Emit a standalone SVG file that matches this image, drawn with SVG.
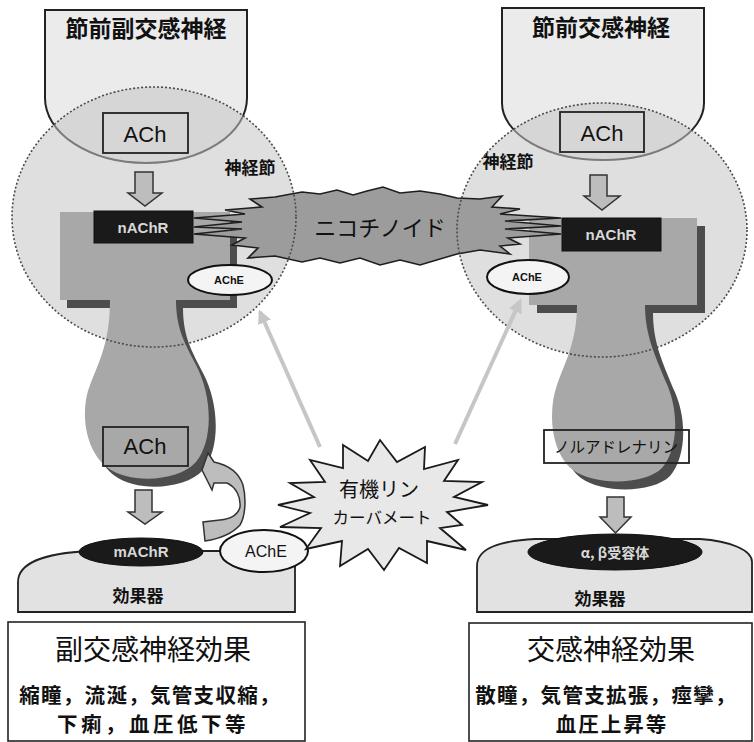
<svg xmlns="http://www.w3.org/2000/svg" width="754" height="742" viewBox="0 0 754 742">
  <defs>
    <style>
      .jp { font-family: "Noto Sans CJK JP", "Noto Sans CJK SC", sans-serif; fill: #111; }
      .lat { font-family: "Liberation Sans", Arial, sans-serif; fill: #111; }
      .pre { fill: #ebebeb; stroke: #222; stroke-width: 2; }
      .gang-fill { fill: #c4c4c4; fill-opacity: 0.55; stroke: none; }
      .gang-edge { fill: none; stroke: #4a4a4a; stroke-width: 1.6; stroke-dasharray: 2 2; }
      .box { fill: none; stroke: #222; stroke-width: 1.8; }
      .body { fill: #a8a8a8; stroke: none; }
      .shadow { fill: #4d4d4d; stroke: none; }
      .recep { fill: #1a1a1a; stroke: #111; stroke-width: 1; }
      .recep-txt { font-family: "Liberation Sans", Arial, sans-serif; font-weight: 700; fill: #d8d8d8; }
      .enz { fill: #f4f4f4; stroke: #111; stroke-width: 2; }
      .effector { fill: #e2e2e2; stroke: #222; stroke-width: 1.8; }
      .blk { fill: #bdbdbd; stroke: #333; stroke-width: 1.5; }
      .hint { stroke: #c6c6c6; stroke-width: 4; fill: none; }
      .panel { fill: #ffffff; stroke: #222; stroke-width: 1.6; }
    </style>
    <marker id="hintHead" viewBox="0 0 10 10" refX="8" refY="5" markerWidth="3.5" markerHeight="3.5" orient="auto">
      <path d="M0,0 L10,5 L0,10 Z" fill="#c6c6c6"/>
    </marker>
  </defs>

  <rect width="754" height="742" fill="#ffffff"/>

  <!-- preganglionic parasympathetic terminal -->
  <g id="pre-para">
    <path class="pre" d="M45,10 H247 V98 A101,65 0 0 1 45,98 Z"/>
    <text class="jp" x="146" y="37" font-size="23" font-weight="700" text-anchor="middle">節前副交感神経</text>
  </g>

  <!-- preganglionic sympathetic terminal -->
  <g id="pre-symp">
    <path class="pre" d="M502,8 H704 V103 A101,57 0 0 1 502,103 Z"/>
    <text class="jp" x="601" y="36" font-size="23" font-weight="700" text-anchor="middle">節前交感神経</text>
  </g>

  <!-- ganglion areas (fill) -->
  <g id="ganglion-left">
    <ellipse class="gang-fill" cx="154" cy="217" rx="142" ry="130"/>
    <text class="jp" x="250" y="174" font-size="17" font-weight="700" text-anchor="middle">神経節</text>
  </g>
  <g id="ganglion-right">
    <ellipse class="gang-fill" cx="602" cy="230" rx="145" ry="127"/>
    <text class="jp" x="508" y="168" font-size="17" font-weight="700" text-anchor="middle">神経節</text>
  </g>

  <!-- transmitter boxes in the presynaptic terminals -->
  <g id="ach-pre-left">
    <rect class="box" x="103" y="113" width="85" height="40"/>
    <text class="lat" x="145" y="142" font-size="22" text-anchor="middle">ACh</text>
  </g>
  <g id="ach-pre-right">
    <rect class="box" x="560" y="112" width="84" height="40"/>
    <text class="lat" x="602" y="141" font-size="22" text-anchor="middle">ACh</text>
  </g>

  <!-- postganglionic parasympathetic neuron -->
  <g id="post-para">
    <path class="shadow" transform="translate(7,8)" d="M60,212 H230 V300 H176 C176,330 186,345 196,365 C212,395 214,440 196,462 C178,482 130,484 108,468 C84,450 80,410 90,385 C100,360 110,340 110,300 H60 Z"/>
    <path class="body" d="M60,212 H230 V300 H176 C176,330 186,345 196,365 C212,395 214,440 196,462 C178,482 130,484 108,468 C84,450 80,410 90,385 C100,360 110,340 110,300 H60 Z"/>
  </g>

  <!-- postganglionic sympathetic neuron -->
  <g id="post-symp">
    <path class="shadow" transform="translate(8,8)" d="M529,218 H697 V305 H645 C645,335 655,355 665,380 C680,410 678,450 662,468 C645,485 595,486 573,470 C550,452 548,410 557,385 C566,360 577,340 577,305 H529 Z"/>
    <path class="body" d="M529,218 H697 V305 H645 C645,335 655,355 665,380 C680,410 678,450 662,468 C645,485 595,486 573,470 C550,452 548,410 557,385 C566,360 577,340 577,305 H529 Z"/>
  </g>

  <!-- nicotinic receptors -->
  <g id="nachr-left">
    <rect class="recep" x="94" y="211" width="99" height="32"/>
    <text class="recep-txt" x="143" y="233" font-size="15" text-anchor="middle">nAChR</text>
  </g>
  <g id="nachr-right">
    <rect class="recep" x="562" y="218" width="99" height="33"/>
    <text class="recep-txt" x="611" y="240" font-size="15" text-anchor="middle">nAChR</text>
  </g>

  <!-- neonicotinoid acting on both ganglia -->
  <g id="nicotinoid">
    <path d="M302,192 L320,194 L337,190 L353,195 L367,191 L383,187 L400,193 L420,191 L440,194 L457,198 L480,199 L502,196 L492,207 L520,209 L500,214 L561,218 L505,221 L561,226 L505,229 L561,234 L508,238 L520,244 L500,246 L510,254 L480,250 L457,254 L440,259 L420,265 L400,260 L380,265 L360,258 L340,263 L320,258 L302,262 L275,256 L248,258 L258,248 L232,245 L245,238 L194,234 L242,229 L194,227 L242,222 L194,218 L245,214 L225,210 L262,207 L250,199 L275,197 Z" fill="#9c9c9c" stroke="#1e1e1e" stroke-width="1.6" stroke-linejoin="miter"/>
    <text class="jp" x="380" y="236" font-size="22" text-anchor="middle">ニコチノイド</text>
  </g>

  <!-- acetylcholinesterase in the ganglia -->
  <g id="ache-gang-left">
    <ellipse class="enz" cx="230" cy="280" rx="42" ry="15"/>
    <text class="lat" x="229" y="284" font-size="11" font-weight="700" text-anchor="middle">AChE</text>
  </g>
  <g id="ache-gang-right">
    <ellipse class="enz" cx="528" cy="277" rx="41" ry="17"/>
    <text class="lat" x="527" y="281" font-size="11" font-weight="700" text-anchor="middle">AChE</text>
  </g>

  <!-- ganglion outlines drawn over the contents -->
  <g id="ganglion-edges">
    <ellipse class="gang-edge" cx="154" cy="217" rx="142" ry="130"/>
    <ellipse class="gang-edge" cx="602" cy="230" rx="145" ry="127"/>
  </g>

  <!-- transmitter boxes in the postganglionic terminals -->
  <g id="ach-post">
    <rect class="box" x="103" y="427" width="85" height="39"/>
    <text class="lat" x="145" y="454" font-size="22" text-anchor="middle">ACh</text>
  </g>
  <g id="noradrenaline">
    <rect class="box" x="544" y="430" width="145" height="33"/>
    <text class="jp" x="616" y="453" font-size="15.5" text-anchor="middle">ノルアドレナリン</text>
  </g>

  <!-- effector organs -->
  <g id="effector-para">
    <path class="effector" d="M18,612 L18,582 C18,563 45,553 90,551 L295,551 L295,612 Z"/>
    <ellipse class="recep" cx="141" cy="552" rx="62" ry="14"/>
    <text class="recep-txt" x="141" y="557" font-size="15" text-anchor="middle">mAChR</text>
    <text class="jp" x="138" y="602" font-size="17" font-weight="700" text-anchor="middle">効果器</text>
  </g>
  <g id="effector-symp">
    <path class="effector" d="M477,612 L477,566 C477,548 500,541 535,539 L700,539 C730,541 752,550 752,562 L752,612 Z"/>
    <ellipse class="recep" cx="615" cy="552" rx="87" ry="18"/>
    <text class="jp" x="615" y="558" font-size="14" font-weight="700" style="fill:#d8d8d8" text-anchor="middle">α, β受容体</text>
    <text class="jp" x="600" y="605" font-size="17" font-weight="700" text-anchor="middle">効果器</text>
  </g>

  <!-- connectors -->
  <g id="connectors">
    <!-- ACh / noradrenaline release arrows -->
    <path class="blk" d="M135,172 H153 V193 H162 L145,206 L128,193 H135 Z"/>
    <path class="blk" d="M590,175 H607 V196 H620 L602,210 L584,196 H590 Z"/>
    <path class="blk" d="M135,490 H152 V512 H162 L145,524 L128,512 H135 Z"/>
    <path class="blk" d="M607,497 H624 V517 H631 L615.5,533 L600,517 H607 Z"/>
    <!-- reuptake / recycling arrow -->
    <path class="blk" stroke-width="2" d="M208,453 L202,470 L212,490 L214,483 L227,483 C236,487 241,497 240,507 C238,515 230,519 220,520 L203,522 L205,541 C218,539 232,534 240,525 C246,515 246,497 243,485 C239,473 228,465 214,462 Z"/>
    <!-- link between receptor and esterase -->
    <line x1="203" y1="551" x2="222" y2="551" stroke="#222" stroke-width="1.8"/>
    <!-- inhibitor targets -->
    <line class="hint" x1="320" y1="447" x2="260" y2="312" marker-end="url(#hintHead)"/>
    <line class="hint" x1="455" y1="444" x2="520" y2="301" marker-end="url(#hintHead)"/>
  </g>

  <!-- esterase at the effector -->
  <g id="ache-effector">
    <ellipse class="enz" cx="264" cy="551" rx="44" ry="21"/>
    <text class="lat" x="266" y="557" font-size="16" text-anchor="middle">AChE</text>
  </g>

  <!-- organophosphate / carbamate inhibitors -->
  <g id="inhibitor">
    <path d="M343,445 L368,461 L380,440 L397,462 L425,447 L424,469 L458,460 L444,481 L482,482 L454,497 L488,505 L447,512 L462,525 L440,528 L466,550 L427,541 L427,563 L399,548 L384,570 L368,549 L340,566 L342,541 L306,549 L321,528 L280,527 L310,513 L278,505 L314,497 L290,483 L325,482 L310,460 L343,468 Z" fill="#e8e8e8" stroke="#1a1a1a" stroke-width="1.8"/>
    <text class="jp" x="379" y="497" font-size="20" text-anchor="middle">有機リン</text>
    <text class="jp" x="382" y="524" font-size="16.5" text-anchor="middle">カーバメート</text>
  </g>

  <!-- outcome panels -->
  <g id="effect-para">
    <rect class="panel" x="8" y="622" width="297" height="119"/>
    <text class="jp" x="153" y="660" font-size="28" font-weight="400" text-anchor="middle">副交感神経効果</text>
    <text class="jp" x="150" y="703" font-size="20.5" font-weight="700" letter-spacing="1.3" text-anchor="middle">縮瞳，流涎，気管支収縮，</text>
    <text class="jp" x="153" y="732" font-size="20.5" font-weight="700" letter-spacing="3.5" text-anchor="middle">下痢，血圧低下等</text>
  </g>
  <g id="effect-symp">
    <rect class="panel" x="469" y="623" width="283" height="118"/>
    <text class="jp" x="611" y="660" font-size="28" font-weight="400" text-anchor="middle">交感神経効果</text>
    <text class="jp" x="606" y="703" font-size="20.5" font-weight="700" letter-spacing="1.3" text-anchor="middle">散瞳，気管支拡張，痙攣，</text>
    <text class="jp" x="612" y="732" font-size="20.5" font-weight="700" letter-spacing="2" text-anchor="middle">血圧上昇等</text>
  </g>
</svg>
